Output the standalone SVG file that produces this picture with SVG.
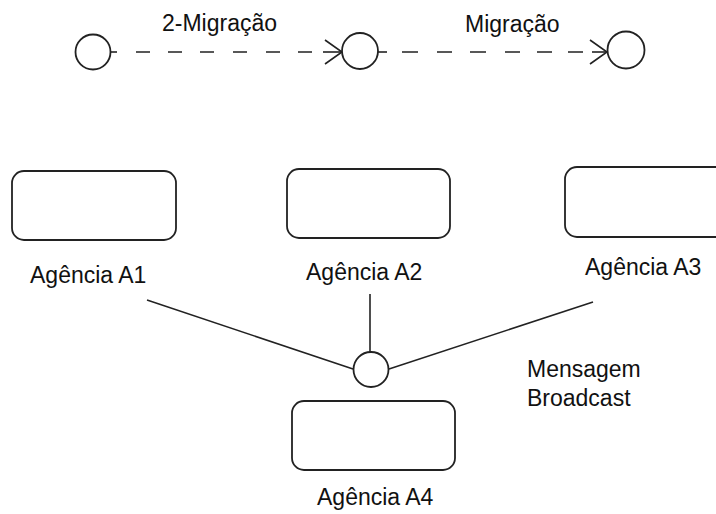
<svg xmlns="http://www.w3.org/2000/svg" width="716" height="514" viewBox="0 0 716 514">
  <defs>
    <style>
      .node { fill: #ffffff; stroke: #222222; stroke-width: 1.8; }
      .ln { fill: none; stroke: #222222; stroke-width: 1.6; }
      .lbl { font-family: "Liberation Sans", Arial, sans-serif; font-size: 23px; fill: #111111; }
    </style>
    <marker id="chev" markerUnits="userSpaceOnUse" markerWidth="24" markerHeight="30" refX="18" refY="13" orient="auto">
      <path d="M1 1 L18 13 L1 25" fill="none" stroke="#222222" stroke-width="1.6"/>
    </marker>
  </defs>
  <rect width="716" height="514" fill="#ffffff"/>

  <g id="connectors">
    <!-- migration 1 -->
    <path class="ln" d="M110.5 52 H117"/>
    <path class="ln" d="M136 52 H150 M168 52 H182 M200 52 H214 M233 52 H247 M266 52 H280 M298 52 H312"/>
    <path class="ln" d="M323 52 H342" marker-end="url(#chev)"/>
    <!-- migration 2 -->
    <path class="ln" d="M378 52 H387"/>
    <path class="ln" d="M402 52 H418 M437 52 H452 M470 52 H486 M505 52 H520 M537 52 H552 M568 52 H583"/>
    <path class="ln" d="M592 52 H607" marker-end="url(#chev)"/>
    <!-- broadcast -->
    <path class="ln" d="M147 300 L353 369"/>
    <path class="ln" d="M370 294 V352"/>
    <path class="ln" d="M389 369 L593 302"/>
  </g>

  <g id="state1"><circle class="node" cx="93" cy="52" r="17.5"/></g>
  <g id="state2"><circle class="node" cx="360" cy="51" r="18"/></g>
  <g id="state3"><circle class="node" cx="626" cy="50" r="18.5"/></g>
  <g id="broadcast"><circle class="node" cx="371" cy="369.5" r="17.5"/></g>

  <g id="label-mig1"><text class="lbl" x="162" y="31">2-Migração</text></g>
  <g id="label-mig2"><text class="lbl" x="465" y="32">Migração</text></g>

  <g id="agencia-a1">
    <rect class="node" x="12" y="171" width="164" height="69" rx="12"/>
    <text class="lbl" x="30" y="283">Agência A1</text>
  </g>
  <g id="agencia-a2">
    <rect class="node" x="287" y="169" width="163" height="69" rx="12"/>
    <text class="lbl" x="306" y="280">Agência A2</text>
  </g>
  <g id="agencia-a3">
    <rect class="node" x="565" y="167" width="170" height="70" rx="12"/>
    <text class="lbl" x="585" y="275">Agência A3</text>
  </g>
  <g id="agencia-a4">
    <rect class="node" x="292" y="401" width="163" height="69" rx="12"/>
    <text class="lbl" x="317" y="505">Agência A4</text>
  </g>
  <g id="label-broadcast">
    <text class="lbl" x="527" y="377">Mensagem</text>
    <text class="lbl" x="527" y="406">Broadcast</text>
  </g>
</svg>
